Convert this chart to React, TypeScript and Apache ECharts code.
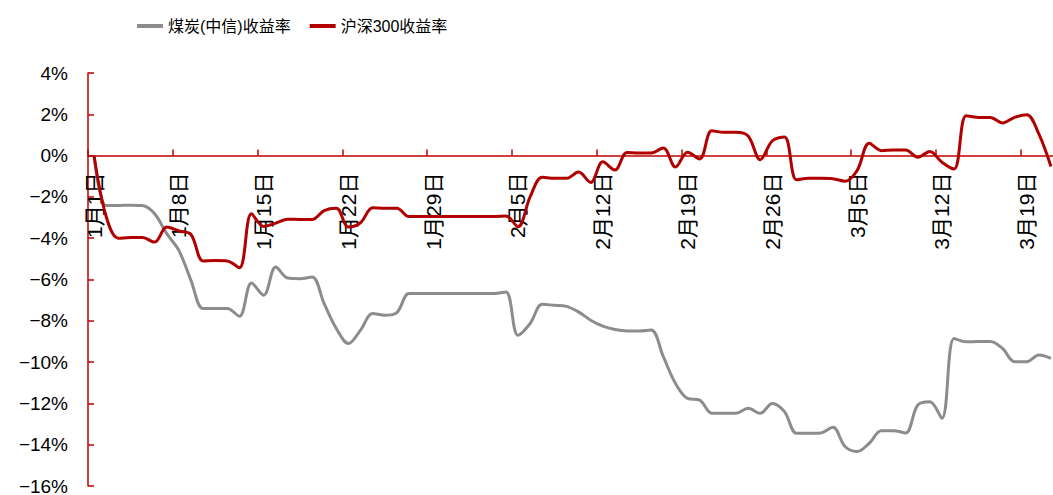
import React, { useEffect, useRef } from "react";
import * as echarts from "echarts";

// Calendar days from 1月1日 to 3月21日
const monthDays: [number, number][] = [
  [1, 31],
  [2, 28],
  [3, 21],
];
const categories: string[] = [];
monthDays.forEach(([m, n]) => {
  for (let d = 1; d <= n; d++) categories.push(`${m}月${d}日`);
});

const coalName = "煤炭(中信)收益率";
const hs300Name = "沪深300收益率";

// 煤炭(中信)收益率, %
const coalValues = [
  0, -2.42, -2.42, -2.4, -2.42, -2.82, -3.78, -4.59, -6.04, -7.41,
  -7.4, -7.4, -7.78, -6.17, -6.76, -5.4, -5.93, -5.96, -5.88, -7.17,
  -8.37, -9.1, -8.45, -7.65, -7.73, -7.6, -6.68, -6.68, -6.68, -6.68,
  -6.68, -6.68, -6.68, -6.68, -6.6, -8.7, -8.13, -7.2, -7.25, -7.3,
  -7.57, -7.97, -8.26, -8.42, -8.49, -8.49, -8.45, -9.74, -11.03, -11.76,
  -11.84, -12.48, -12.48, -12.48, -12.24, -12.48, -12.0, -12.4, -13.45, -13.45,
  -13.43, -13.16, -14.09, -14.33, -13.93, -13.32, -13.32, -13.43, -12.08, -11.92,
  -12.72, -8.86, -9.02, -9.0, -9.0, -9.34, -9.98, -9.98, -9.66, -9.82,
];

// 沪深300收益率, %
const hs300Values = [
  0, -2.95, -4.0, -3.97, -3.97, -4.19, -3.46, -3.65, -3.82, -5.1,
  -5.08, -5.1, -5.43, -2.82, -3.43, -3.27, -3.08, -3.09, -3.09, -2.66,
  -2.55, -3.46, -3.25, -2.53, -2.55, -2.55, -2.95, -2.95, -2.95, -2.95,
  -2.95, -2.95, -2.95, -2.95, -2.92, -3.45, -2.0, -1.05, -1.1, -1.1,
  -0.8, -1.3, -0.3, -0.7, 0.15, 0.13, 0.13, 0.37, -0.55, 0.16,
  -0.16, 1.2, 1.13, 1.13, 0.95, -0.2, 0.72, 0.9, -1.17, -1.1,
  -1.1, -1.12, -1.24, -0.72, 0.6, 0.24, 0.27, 0.27, -0.08, 0.2,
  -0.32, -0.65, 1.93, 1.85, 1.85, 1.58, 1.85, 1.98, 1.05, -0.53,
];

const yMin = -16;
const yMax = 4;
const yInterval = 2;

const AXIS_RED = "#c00000";
const LINE_RED = "#b00000";
const LINE_GRAY = "#8c8c8c";
const FONT = "'Liberation Sans', 'Noto Sans CJK SC', sans-serif";

const GRID_TOP = 73;
const GRID_BOTTOM = 9;
const CHART_H = 495;

export default function App() {
  const ref = useRef<HTMLDivElement>(null);

  useEffect(() => {
    if (!ref.current) return;
    const chart = echarts.init(ref.current, undefined, { renderer: "svg" });
    const gridH = CHART_H - GRID_TOP - GRID_BOTTOM;
    // place the category axis on the zero line (axis + ticks + labels together)
    const zeroFromBottom = (gridH * (0 - yMin)) / (yMax - yMin);
    chart.setOption({
      animation: false,
      backgroundColor: "#ffffff",
      textStyle: { fontFamily: FONT },
      legend: {
        left: 132,
        top: 13,
        icon: "rect",
        itemWidth: 26,
        itemHeight: 4,
        itemGap: 19,
        textStyle: { fontSize: 16, color: "#000", fontFamily: FONT },
        data: [coalName, hs300Name],
      },
      grid: {
        left: 88,
        right: -4,
        top: GRID_TOP,
        bottom: GRID_BOTTOM,
        containLabel: false,
        outerBoundsMode: "none",
      },
      xAxis: {
        type: "category",
        data: categories,
        boundaryGap: true,
        position: "bottom",
        offset: -zeroFromBottom,
        axisLine: { onZero: false, lineStyle: { color: AXIS_RED, width: 1.5 } },
        axisTick: {
          show: true,
          inside: true,
          length: 6,
          interval: 6,
          lineStyle: { color: AXIS_RED, width: 1.5 },
        },
        axisLabel: {
          interval: 6,
          rotate: 90,
          margin: 17,
          fontSize: 21,
          color: "#000",
          fontFamily: FONT,
        },
        splitLine: { show: false },
      },
      yAxis: {
        type: "value",
        min: yMin,
        max: yMax,
        interval: yInterval,
        axisLine: { show: true, lineStyle: { color: AXIS_RED, width: 1.5 } },
        axisTick: {
          show: true,
          inside: true,
          length: 6,
          lineStyle: { color: AXIS_RED, width: 1.5 },
        },
        axisLabel: {
          margin: 20,
          fontSize: 19,
          color: "#000",
          fontFamily: FONT,
          formatter: (v: number) => (v < 0 ? "\u2212" : "") + Math.abs(v) + "%",
        },
        splitLine: { show: false },
      },
      series: [
        {
          name: coalName,
          type: "line",
          data: coalValues,
          smooth: 0.35,
          symbol: "none",
          color: LINE_GRAY,
          lineStyle: { color: LINE_GRAY, width: 3 },
        },
        {
          name: hs300Name,
          type: "line",
          data: hs300Values,
          smooth: 0.35,
          symbol: "none",
          color: LINE_RED,
          lineStyle: { color: LINE_RED, width: 3 },
        },
      ],
    });
    return () => chart.dispose();
  }, []);

  return (
    <div
      ref={ref}
      style={{ position: "fixed", left: 0, top: 0, width: 1053, height: 495, background: "#fff" }}
    />
  );
}
